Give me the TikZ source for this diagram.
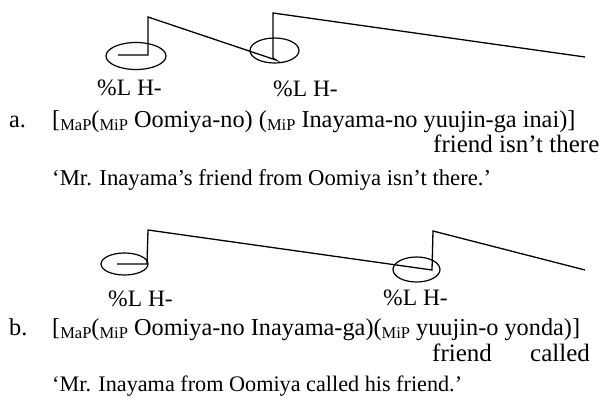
\documentclass[tikz,border=0pt]{standalone}
\usepackage{fontspec}
\setmainfont{Liberation Serif}
\usetikzlibrary{shapes.geometric}
\newcommand\subsc[1]{\raisebox{-0.15em}{\fontsize{16.5}{16.5}\selectfont #1}}
\begin{document}
\begin{tikzpicture}[x=1pt,y=-1pt,
  contour/.style={line width=1.3pt, line join=miter},
  ring/.style={draw, ellipse, line width=1.2pt, inner sep=0pt},
  txt/.style={anchor=base west, inner sep=0pt, font=\fontsize{22.7}{27}\selectfont},
  ex/.style={txt, font=\fontsize{24.3}{28}\selectfont},
  gloss/.style={txt, font=\fontsize{25}{28}\selectfont},
  tone/.style={anchor=base west, inner sep=0pt, font=\fontsize{23.5}{27}\selectfont},
]
\useasboundingbox (0,0) rectangle (603,397);
% ---------- panel a ----------
\node[ring, minimum width=60, minimum height=27] (ea1) at (136,56) {};
\node[ring, minimum width=49, minimum height=25] (ea2) at (274.5,50.5) {};
\coordinate (a0) at (118,55);
\coordinate (a1) at (148,55);
\coordinate (a2) at (148,17);
\coordinate (a3) at (276,60);
\coordinate (a4) at (273,58);
\coordinate (a5) at (273,13);
\coordinate (a6) at (585,57);
\draw[contour] (a0) -- (a1) -- (a2) -- (a3) -- (a4) -- (a5) -- (a6);
\node[tone] (ta1) at (97,95) {\%L H-};
\node[tone] (ta2) at (273,96) {\%L H-};
\node[ex] (la) at (9,127) {a.};
\node[ex] (ga) at (52,127) {[\subsc{MaP}(\subsc{MiP} Oomiya-no) (\subsc{MiP} Inayama-no yuujin-ga inai)]};
\node[gloss] (fa) at (433,152) {friend isn’t there};
\node[txt] (ma) at (52,185) {‘Mr. Inayama’s friend from Oomiya isn’t there.’};
% ---------- panel b ----------
\node[ring, minimum width=47, minimum height=22] (eb1) at (124.5,264) {};
\node[ring, minimum width=47, minimum height=25] (eb2) at (416.5,269.5) {};
\coordinate (b0) at (117,264);
\coordinate (b1) at (147,264);
\coordinate (b2) at (148,230);
\coordinate (b3) at (432,270);
\coordinate (b4) at (433,231);
\coordinate (b5) at (585,270);
\draw[contour] (b0) -- (b1) -- (b2) -- (b3) -- (b4) -- (b5);
\node[tone] (tb1) at (108,306) {\%L H-};
\node[tone] (tb2) at (383,305) {\%L H-};
\node[ex] (lb) at (9,335) {b.};
\node[ex] (gb) at (52,335) {[\subsc{MaP}(\subsc{MiP} Oomiya-no Inayama-ga)(\subsc{MiP} yuujin-o yonda)]};
\node[gloss] (fb) at (432,361) {friend};
\node[gloss] (cb) at (530,361) {called};
\node[txt, font=\fontsize{22.2}{27}\selectfont] (mb) at (52,391) {‘Mr. Inayama from Oomiya called his friend.’};
\end{tikzpicture}
\end{document}
